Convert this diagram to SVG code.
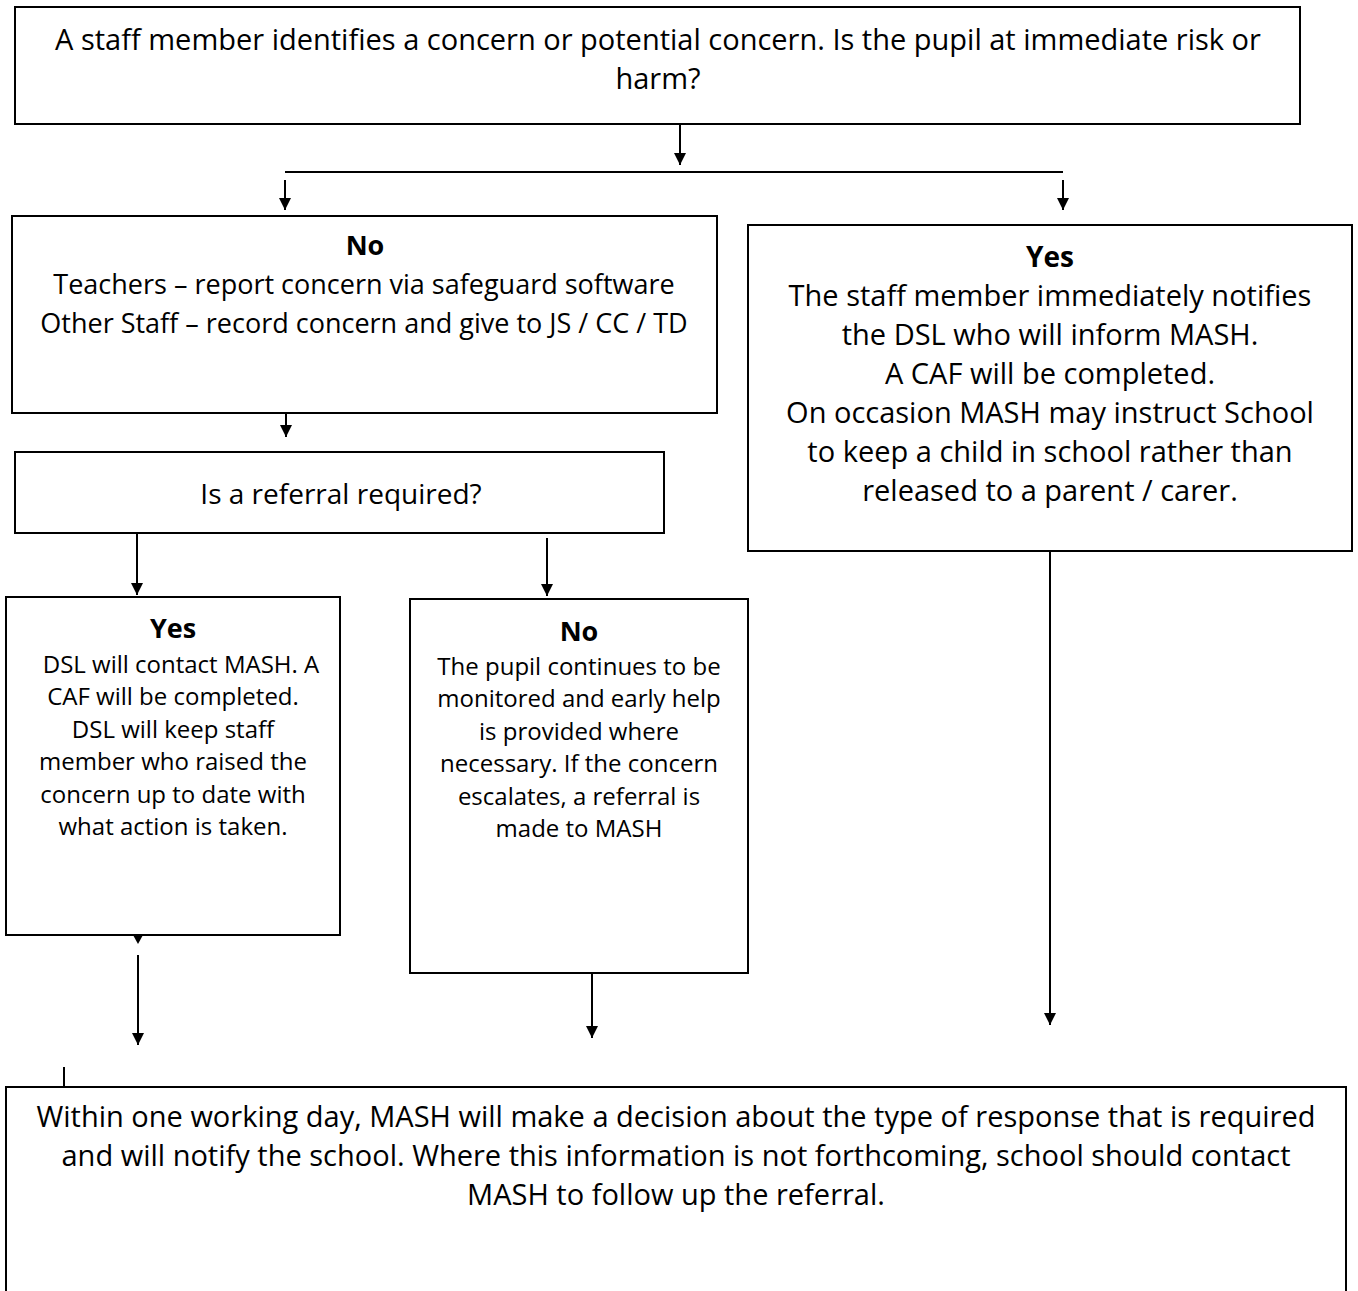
<svg xmlns="http://www.w3.org/2000/svg" width="1358" height="1291" viewBox="0 0 1358 1291">
<style>
.box{fill:#fff;stroke:#000;stroke-width:2}
.t{font-family:"Open Sans","Noto Sans",sans-serif;font-size:29px;fill:#000;text-anchor:middle}
.m{font-size:27px}
.s{font-size:24px}
.b{font-weight:bold;font-size:27px}
.c{stroke:#000;stroke-width:2;fill:none}
</style>
<defs>
<marker id="ah" markerWidth="14" markerHeight="14" refX="12" refY="6" orient="auto" markerUnits="userSpaceOnUse">
<path d="M0,0 L12,6 L0,12 Z" fill="#000"/>
</marker>
</defs>
<rect width="1358" height="1291" fill="#fff"/>
<g id="n-start">
<rect class="box" x="15" y="7" width="1285" height="117"/>
<text class="t" x="658" y="50">A staff member identifies a concern or potential concern. Is the pupil at immediate risk or</text>
<text class="t" x="658" y="89">harm?</text>
</g>
<g id="n-no1">
<rect class="box" x="12" y="216" width="705" height="197"/>
<text class="t b" x="365" y="255">No</text>
<text class="t m" x="364" y="294">Teachers – report concern via safeguard software</text>
<text class="t m" x="364" y="333">Other Staff – record concern and give to JS / CC / TD</text>
</g>
<g id="n-referral">
<rect class="box" x="15" y="452" width="649" height="81"/>
<text class="t" x="341" y="504" style="font-size:28px">Is a referral required?</text>
</g>
<g id="n-yes2">
<rect class="box" x="6" y="597" width="334" height="338"/>
<text class="t b" x="173" y="638">Yes</text>
<text class="t s" x="181" y="673">DSL will contact MASH. A</text>
<text class="t s" x="173" y="705">CAF will be completed.</text>
<text class="t s" x="173" y="738">DSL will keep staff</text>
<text class="t s" x="173" y="770">member who raised the</text>
<text class="t s" x="173" y="803">concern up to date with</text>
<text class="t s" x="173" y="835">what action is taken.</text>
</g>
<g id="n-no2">
<rect class="box" x="410" y="599" width="338" height="374"/>
<text class="t b" x="579" y="641">No</text>
<text class="t s" x="579" y="675">The pupil continues to be</text>
<text class="t s" x="579" y="707">monitored and early help</text>
<text class="t s" x="579" y="740">is provided where</text>
<text class="t s" x="579" y="772">necessary. If the concern</text>
<text class="t s" x="579" y="805">escalates, a referral is</text>
<text class="t s" x="579" y="837">made to MASH</text>
</g>
<g id="n-yes1">
<rect class="box" x="748" y="225" width="604" height="326"/>
<text class="t b" x="1050" y="267" style="font-size:28px">Yes</text>
<text class="t" x="1050" y="306">The staff member immediately notifies</text>
<text class="t" x="1050" y="345">the DSL who will inform MASH.</text>
<text class="t" x="1050" y="384">A CAF will be completed.</text>
<text class="t" x="1050" y="423">On occasion MASH may instruct School</text>
<text class="t" x="1050" y="462">to keep a child in school rather than</text>
<text class="t" x="1050" y="501">released to a parent / carer.</text>
</g>
<g id="n-mash">
<path class="c" d="M6,1295 V1087 H1346 V1295"/>
<text class="t" x="676" y="1127">Within one working day, MASH will make a decision about the type of response that is required</text>
<text class="t" x="676" y="1166">and will notify the school. Where this information is not forthcoming, school should contact</text>
<text class="t" x="676" y="1205">MASH to follow up the referral.</text>
</g>
<g id="connectors">
<line class="c" x1="680" y1="124" x2="680" y2="165" marker-end="url(#ah)"/>
<line class="c" x1="285" y1="172" x2="1063" y2="172"/>
<line class="c" x1="285" y1="180" x2="285" y2="210" marker-end="url(#ah)"/>
<line class="c" x1="1063" y1="180" x2="1063" y2="210" marker-end="url(#ah)"/>
<line class="c" x1="286" y1="413" x2="286" y2="437" marker-end="url(#ah)"/>
<line class="c" x1="137" y1="533" x2="137" y2="595" marker-end="url(#ah)"/>
<line class="c" x1="547" y1="538" x2="547" y2="596" marker-end="url(#ah)"/>
<path d="M133,935 L143,935 L138,944 Z" fill="#000"/>
<line class="c" x1="138" y1="955" x2="138" y2="1045" marker-end="url(#ah)"/>
<line class="c" x1="592" y1="973" x2="592" y2="1038" marker-end="url(#ah)"/>
<line class="c" x1="1050" y1="551" x2="1050" y2="1025" marker-end="url(#ah)"/>
<line class="c" x1="64" y1="1067" x2="64" y2="1087"/>
</g>
</svg>
